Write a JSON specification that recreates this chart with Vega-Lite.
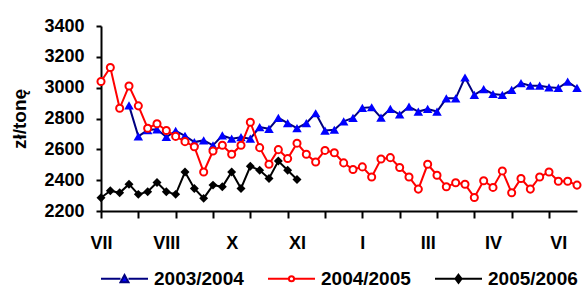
{
  "$schema": "https://vega.github.io/schema/vega-lite/v6.json",
  "width": 476,
  "height": 185,
  "autosize": {"type": "none"},
  "padding": {"left": 101, "top": 26, "right": 8, "bottom": 86},
  "background": "white",
  "config": {"view": {"stroke": null}},
  "data": {"values": [
    {"week": 3, "series": "2003/2004", "price": 2885},
    {"week": 4, "series": "2003/2004", "price": 2684},
    {"week": 5, "series": "2003/2004", "price": 2725},
    {"week": 6, "series": "2003/2004", "price": 2730},
    {"week": 7, "series": "2003/2004", "price": 2680},
    {"week": 8, "series": "2003/2004", "price": 2720},
    {"week": 9, "series": "2003/2004", "price": 2688},
    {"week": 10, "series": "2003/2004", "price": 2647},
    {"week": 11, "series": "2003/2004", "price": 2658},
    {"week": 12, "series": "2003/2004", "price": 2626},
    {"week": 13, "series": "2003/2004", "price": 2690},
    {"week": 14, "series": "2003/2004", "price": 2669},
    {"week": 15, "series": "2003/2004", "price": 2679},
    {"week": 16, "series": "2003/2004", "price": 2669},
    {"week": 17, "series": "2003/2004", "price": 2744},
    {"week": 18, "series": "2003/2004", "price": 2733},
    {"week": 19, "series": "2003/2004", "price": 2804},
    {"week": 20, "series": "2003/2004", "price": 2770},
    {"week": 21, "series": "2003/2004", "price": 2737},
    {"week": 22, "series": "2003/2004", "price": 2770},
    {"week": 23, "series": "2003/2004", "price": 2834},
    {"week": 24, "series": "2003/2004", "price": 2722},
    {"week": 25, "series": "2003/2004", "price": 2727},
    {"week": 26, "series": "2003/2004", "price": 2782},
    {"week": 27, "series": "2003/2004", "price": 2804},
    {"week": 28, "series": "2003/2004", "price": 2869},
    {"week": 29, "series": "2003/2004", "price": 2873},
    {"week": 30, "series": "2003/2004", "price": 2806},
    {"week": 31, "series": "2003/2004", "price": 2862},
    {"week": 32, "series": "2003/2004", "price": 2826},
    {"week": 33, "series": "2003/2004", "price": 2877},
    {"week": 34, "series": "2003/2004", "price": 2845},
    {"week": 35, "series": "2003/2004", "price": 2862},
    {"week": 36, "series": "2003/2004", "price": 2845},
    {"week": 37, "series": "2003/2004", "price": 2931},
    {"week": 38, "series": "2003/2004", "price": 2931},
    {"week": 39, "series": "2003/2004", "price": 3066},
    {"week": 40, "series": "2003/2004", "price": 2953},
    {"week": 41, "series": "2003/2004", "price": 2991},
    {"week": 42, "series": "2003/2004", "price": 2959},
    {"week": 43, "series": "2003/2004", "price": 2953},
    {"week": 44, "series": "2003/2004", "price": 2985},
    {"week": 45, "series": "2003/2004", "price": 3030},
    {"week": 46, "series": "2003/2004", "price": 3013},
    {"week": 47, "series": "2003/2004", "price": 3013},
    {"week": 48, "series": "2003/2004", "price": 3002},
    {"week": 49, "series": "2003/2004", "price": 2998},
    {"week": 50, "series": "2003/2004", "price": 3039},
    {"week": 51, "series": "2003/2004", "price": 2998},
    {"week": 0, "series": "2004/2005", "price": 3040},
    {"week": 1, "series": "2004/2005", "price": 3131},
    {"week": 2, "series": "2004/2005", "price": 2866},
    {"week": 3, "series": "2004/2005", "price": 3011},
    {"week": 4, "series": "2004/2005", "price": 2882},
    {"week": 5, "series": "2004/2005", "price": 2737},
    {"week": 6, "series": "2004/2005", "price": 2766},
    {"week": 7, "series": "2004/2005", "price": 2722},
    {"week": 8, "series": "2004/2005", "price": 2684},
    {"week": 9, "series": "2004/2005", "price": 2650},
    {"week": 10, "series": "2004/2005", "price": 2617},
    {"week": 11, "series": "2004/2005", "price": 2453},
    {"week": 12, "series": "2004/2005", "price": 2589},
    {"week": 13, "series": "2004/2005", "price": 2626},
    {"week": 14, "series": "2004/2005", "price": 2568},
    {"week": 15, "series": "2004/2005", "price": 2626},
    {"week": 16, "series": "2004/2005", "price": 2776},
    {"week": 17, "series": "2004/2005", "price": 2611},
    {"week": 18, "series": "2004/2005", "price": 2503},
    {"week": 19, "series": "2004/2005", "price": 2598},
    {"week": 20, "series": "2004/2005", "price": 2540},
    {"week": 21, "series": "2004/2005", "price": 2640},
    {"week": 22, "series": "2004/2005", "price": 2568},
    {"week": 23, "series": "2004/2005", "price": 2518},
    {"week": 24, "series": "2004/2005", "price": 2593},
    {"week": 25, "series": "2004/2005", "price": 2578},
    {"week": 26, "series": "2004/2005", "price": 2512},
    {"week": 27, "series": "2004/2005", "price": 2469},
    {"week": 28, "series": "2004/2005", "price": 2486},
    {"week": 29, "series": "2004/2005", "price": 2421},
    {"week": 30, "series": "2004/2005", "price": 2537},
    {"week": 31, "series": "2004/2005", "price": 2546},
    {"week": 32, "series": "2004/2005", "price": 2482},
    {"week": 33, "series": "2004/2005", "price": 2421},
    {"week": 34, "series": "2004/2005", "price": 2342},
    {"week": 35, "series": "2004/2005", "price": 2503},
    {"week": 36, "series": "2004/2005", "price": 2432},
    {"week": 37, "series": "2004/2005", "price": 2357},
    {"week": 38, "series": "2004/2005", "price": 2383},
    {"week": 39, "series": "2004/2005", "price": 2374},
    {"week": 40, "series": "2004/2005", "price": 2288},
    {"week": 41, "series": "2004/2005", "price": 2396},
    {"week": 42, "series": "2004/2005", "price": 2353},
    {"week": 43, "series": "2004/2005", "price": 2460},
    {"week": 44, "series": "2004/2005", "price": 2318},
    {"week": 45, "series": "2004/2005", "price": 2411},
    {"week": 46, "series": "2004/2005", "price": 2342},
    {"week": 47, "series": "2004/2005", "price": 2421},
    {"week": 48, "series": "2004/2005", "price": 2453},
    {"week": 49, "series": "2004/2005", "price": 2393},
    {"week": 50, "series": "2004/2005", "price": 2393},
    {"week": 51, "series": "2004/2005", "price": 2368},
    {"week": 0, "series": "2005/2006", "price": 2286},
    {"week": 1, "series": "2005/2006", "price": 2331},
    {"week": 2, "series": "2005/2006", "price": 2318},
    {"week": 3, "series": "2005/2006", "price": 2374},
    {"week": 4, "series": "2005/2006", "price": 2308},
    {"week": 5, "series": "2005/2006", "price": 2325},
    {"week": 6, "series": "2005/2006", "price": 2385},
    {"week": 7, "series": "2005/2006", "price": 2325},
    {"week": 8, "series": "2005/2006", "price": 2308},
    {"week": 9, "series": "2005/2006", "price": 2453},
    {"week": 10, "series": "2005/2006", "price": 2346},
    {"week": 11, "series": "2005/2006", "price": 2282},
    {"week": 12, "series": "2005/2006", "price": 2368},
    {"week": 13, "series": "2005/2006", "price": 2357},
    {"week": 14, "series": "2005/2006", "price": 2453},
    {"week": 15, "series": "2005/2006", "price": 2346},
    {"week": 16, "series": "2005/2006", "price": 2490},
    {"week": 17, "series": "2005/2006", "price": 2464},
    {"week": 18, "series": "2005/2006", "price": 2411},
    {"week": 19, "series": "2005/2006", "price": 2524},
    {"week": 20, "series": "2005/2006", "price": 2464},
    {"week": 21, "series": "2005/2006", "price": 2404}
  ]},
  "encoding": {
    "x": {
      "field": "week", "type": "quantitative",
      "scale": {"domain": [0, 51], "nice": false, "zero": false},
      "axis": {
        "values": [0, 4, 7, 8, 12, 14, 16, 20, 21, 24, 28, 32, 35, 36, 40, 42, 44, 48, 49],
        "labelExpr": "datum.value % 7 === 0 ? ['VII','VIII','X','XI','I','III','IV','VI'][datum.value / 7] : ''",
        "tickOpacity": {"condition": {"test": "datum.value % 4 === 0", "value": 1}, "value": 0},
        "tickSize": 7, "tickWidth": 2, "tickColor": "black",
        "domainColor": "black", "domainWidth": 2,
        "labelFont": "Liberation Sans", "labelFontSize": 18, "labelFontWeight": "bold", "labelColor": "black",
        "labelPadding": 16, "labelOverlap": false, "labelFlush": false, "labelBound": false,
        "grid": false, "title": null
      }
    },
    "y": {
      "field": "price", "type": "quantitative",
      "scale": {"domain": [2200, 3400], "nice": false, "zero": false},
      "axis": {
        "values": [2200, 2400, 2600, 2800, 3000, 3200, 3400],
        "format": "d",
        "tickSize": 5, "tickWidth": 2, "tickColor": "black",
        "domainColor": "black", "domainWidth": 2,
        "labelFont": "Liberation Sans", "labelFontSize": 18, "labelFontWeight": "bold", "labelColor": "black",
        "labelPadding": 12, "labelOverlap": false,
        "grid": false,
        "title": "zł/tonę", "titleFont": "Liberation Sans", "titleFontSize": 19, "titleFontWeight": "bold", "titleColor": "black",
        "titlePadding": 14
      }
    }
  },
  "layer": [
    {
      "transform": [{"filter": "datum.series === '2003/2004'"}],
      "mark": {"type": "line", "color": "#000080", "strokeWidth": 2},
      "encoding": {}
    },
    {
      "transform": [{"filter": "datum.series === '2003/2004'"}],
      "mark": {"type": "point", "shape": "triangle-up", "filled": true, "color": "#0000FF", "size": 90, "opacity": 1}
    },
    {
      "transform": [{"filter": "datum.series === '2004/2005'"}],
      "mark": {"type": "line", "color": "#FF0000", "strokeWidth": 2},
      "encoding": {}
    },
    {
      "transform": [{"filter": "datum.series === '2004/2005'"}],
      "mark": {"type": "point", "shape": "circle", "filled": true, "fill": "white", "stroke": "#FF0000", "strokeWidth": 2, "size": 50, "opacity": 1}
    },
    {
      "transform": [{"filter": "datum.series === '2005/2006'"}],
      "mark": {"type": "line", "color": "black", "strokeWidth": 2},
      "encoding": {}
    },
    {
      "transform": [{"filter": "datum.series === '2005/2006'"}],
      "mark": {"type": "point", "shape": "diamond", "filled": true, "color": "black", "size": 80, "opacity": 1}
    },
    {
      "mark": {"type": "point", "filled": true, "opacity": 0},
      "encoding": {
        "shape": {
          "field": "series", "type": "nominal",
          "scale": {
            "domain": ["2003/2004", "2004/2005", "2005/2006"],
            "range": [
              "M-1,0H-0.17M0.17,0H1M0,-0.16L0.17,0.15L-0.17,0.15Z",
              "M-1,0H-0.11M0.11,0H1M-0.11,0A0.11,0.11 0 1,1 0.11,0A0.11,0.11 0 1,1 -0.11,0Z",
              "M-1,0H1M0,-0.17L0.13,0L0,0.17L-0.13,0Z"
            ]
          },
          "legend": {
            "orient": "none", "legendX": -1, "legendY": 228, "direction": "horizontal",
            "title": null, "symbolSize": 2209, "symbolStrokeWidth": 2, "symbolOpacity": 1,
            "labelFont": "Liberation Sans", "labelFontSize": 19, "labelFontWeight": "bold", "labelColor": "black",
            "labelOffset": 5, "columnPadding": 20, "padding": 0
          }
        },
        "fill": {
          "field": "series", "type": "nominal",
          "scale": {"domain": ["2003/2004", "2004/2005", "2005/2006"], "range": ["#0000FF", "white", "black"]}
        },
        "stroke": {
          "field": "series", "type": "nominal",
          "scale": {"domain": ["2003/2004", "2004/2005", "2005/2006"], "range": ["#000080", "#FF0000", "black"]}
        }
      }
    }
  ]
}
